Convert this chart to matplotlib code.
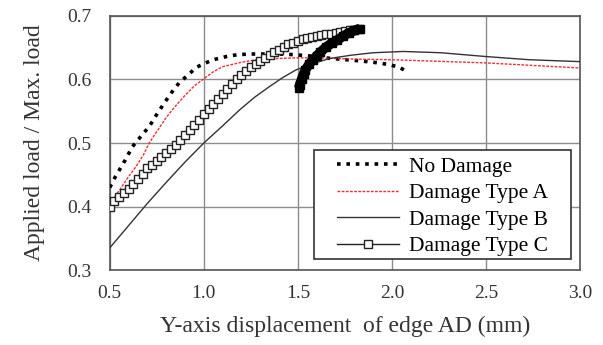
import matplotlib
matplotlib.use('agg')
import matplotlib.pyplot as plt
from matplotlib.patches import Rectangle

# No Damage
nd_x = [0.50, 0.53, 0.58, 0.62, 0.67, 0.71, 0.75, 0.79, 0.83, 0.87, 0.92, 0.96, 1.01, 1.05, 1.12,
        1.18, 1.25, 1.32, 1.40, 1.48, 1.56, 1.64, 1.72, 1.80, 1.87, 1.93, 1.99, 2.04, 2.07]
nd_y = [0.430, 0.447, 0.472, 0.494, 0.512, 0.526, 0.545, 0.563, 0.580, 0.595, 0.608, 0.619, 0.626,
        0.631, 0.636, 0.639, 0.640, 0.640, 0.640, 0.639, 0.637, 0.634, 0.632, 0.630, 0.628, 0.626,
        0.623, 0.619, 0.614]

# Damage Type A
a_x = [0.50, 0.55, 0.60, 0.64, 0.68, 0.71, 0.75, 0.80, 0.84, 0.90, 0.95, 1.00, 1.05, 1.10, 1.20,
       1.28, 1.40, 1.50, 1.60, 1.80, 2.00, 2.20, 2.50, 2.75, 3.00]
a_y = [0.405, 0.425, 0.447, 0.463, 0.482, 0.500, 0.518, 0.540, 0.555, 0.575, 0.590, 0.601, 0.612,
       0.620, 0.627, 0.631, 0.633, 0.634, 0.634, 0.632, 0.631, 0.629, 0.626, 0.622, 0.618]

# Damage Type B
b_x = [0.50, 0.60, 0.70, 0.80, 0.90, 1.00, 1.10, 1.19, 1.27, 1.35, 1.42, 1.49, 1.58, 1.67, 1.78,
       1.90, 2.06, 2.26, 2.50, 2.73, 3.00]
b_y = [0.335, 0.370, 0.405, 0.438, 0.470, 0.500, 0.527, 0.552, 0.572, 0.589, 0.603, 0.615, 0.625,
       0.633, 0.638, 0.642, 0.644, 0.642, 0.636, 0.631, 0.628]

# Damage Type C: loading branch, then the snap-back branch
c_x = [0.500, 0.525, 0.550, 0.575, 0.600, 0.625, 0.650, 0.675, 0.700, 0.725, 0.750, 0.775, 0.800,
       0.825, 0.850, 0.875, 0.900, 0.925, 0.950, 0.975, 1.000, 1.025, 1.050, 1.075, 1.100, 1.125,
       1.150, 1.175, 1.200, 1.225, 1.250, 1.275, 1.300, 1.325, 1.350, 1.375, 1.400, 1.425, 1.450,
       1.475, 1.500, 1.525, 1.550, 1.575, 1.600, 1.625, 1.650, 1.675, 1.700, 1.725, 1.750, 1.775,
       1.800, 1.825]
c_y = [0.400, 0.408, 0.415, 0.421, 0.428, 0.436, 0.444, 0.452, 0.460, 0.466, 0.472, 0.478, 0.484,
       0.490, 0.497, 0.504, 0.512, 0.520, 0.528, 0.536, 0.545, 0.553, 0.561, 0.569, 0.577, 0.585,
       0.593, 0.600, 0.607, 0.613, 0.619, 0.624, 0.629, 0.634, 0.639, 0.643, 0.647, 0.651, 0.655,
       0.658, 0.661, 0.663, 0.665, 0.667, 0.669, 0.670, 0.671, 0.672, 0.673, 0.675, 0.676, 0.677,
       0.678, 0.679]
cb_x = [1.83, 1.80, 1.77, 1.74, 1.71, 1.68, 1.65, 1.62, 1.60, 1.58, 1.56, 1.54, 1.53, 1.52, 1.51,
        1.505]
cb_y = [0.680, 0.677, 0.673, 0.668, 0.662, 0.657, 0.651, 0.643, 0.637, 0.631, 0.624, 0.615, 0.608,
        0.600, 0.592, 0.586]

labels = ['No Damage', 'Damage Type A', 'Damage Type B', 'Damage Type C']
xticks = [0.5, 1.0, 1.5, 2.0, 2.5, 3.0]
yticks = [0.3, 0.4, 0.5, 0.6, 0.7]

plt.rcParams['font.family'] = ['Liberation Serif', 'DejaVu Serif']

fig = plt.figure(figsize=(6.03, 3.45), dpi=100)
ax = fig.add_axes([0.182, 0.217, 0.78, 0.737])

ax.plot(nd_x, nd_y, color='black', lw=2.6, linestyle=(0, (1, 1.6)), label=labels[0], zorder=3)
ax.plot(a_x, a_y, color='#e8303a', lw=1.0, linestyle=(0, (2, 1)), label=labels[1], zorder=3)
ax.plot(b_x, b_y, color='#333333', lw=1.0, label=labels[2], zorder=3)
ax.plot(c_x, c_y, color='#222222', lw=1.0, marker='s', ms=5.5, mfc='white', mec='#222222',
        mew=1.0, label=labels[3], zorder=4)
ax.plot(cb_x, cb_y, color='black', lw=7.0, solid_capstyle='butt', zorder=4)
ax.plot(cb_x, cb_y, color='black', lw=0, marker='s', ms=6, zorder=4)

ax.set_xlim(0.5, 3.0)
ax.set_ylim(0.3, 0.7)
ax.set_xticks(xticks)
ax.set_yticks(yticks)
ax.set_xticklabels(['%.1f' % v for v in xticks])
ax.set_yticklabels(['%.1f' % v for v in yticks])
ax.tick_params(axis='both', length=0, labelsize=14, colors='#333333')
ax.tick_params(axis='x', pad=11)
ax.tick_params(axis='y', pad=13)
ax.grid(True, color='#8c8c8c', lw=1.0)
ax.set_axisbelow(True)
for sp in ax.spines.values():
    sp.set_color('#555555')
    sp.set_linewidth(1.2)

ax.set_xlabel('Y-axis displacement  of edge AD (mm)', fontsize=17, color='#333333', labelpad=10)
ax.set_ylabel('Applied load / Max. load', fontsize=17, color='#333333', labelpad=16)

# legend box drawn separately so the side padding can differ from the top padding
ax.add_patch(Rectangle((0.434, 0.043), 0.547, 0.429, transform=ax.transAxes, facecolor='white',
                       edgecolor='#333333', lw=1.2, zorder=5))
leg = ax.legend(loc='upper left', bbox_to_anchor=(0.483, 0.446), fontsize=15.5, frameon=False,
                borderpad=0, labelspacing=0.3, handlelength=2.9, handletextpad=0.45,
                borderaxespad=0)
leg.set_zorder(6)

fig.savefig('out.png', dpi=100)
